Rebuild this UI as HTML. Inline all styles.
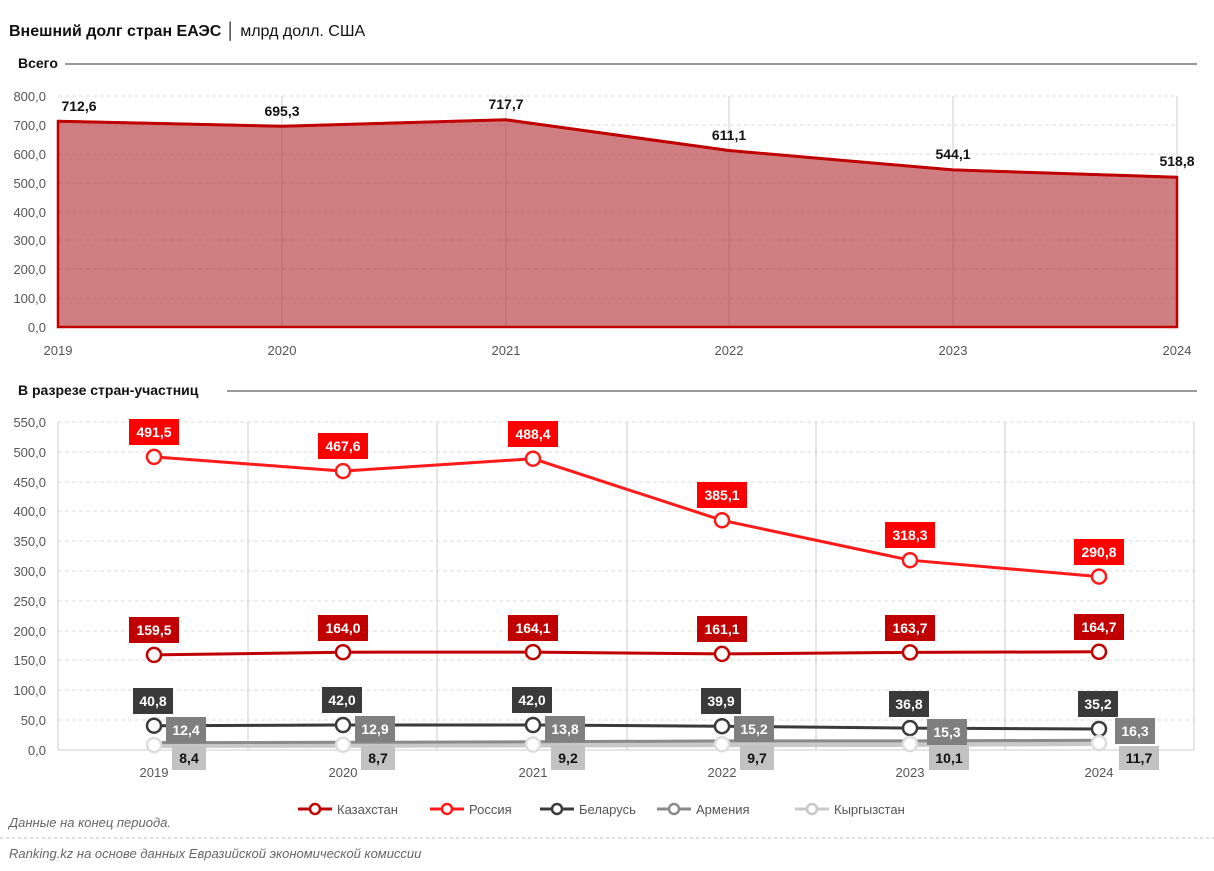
<!DOCTYPE html>
<html><head><meta charset="utf-8"><style>
body{margin:0;background:#fff;}
svg{display:block;font-family:"Liberation Sans",sans-serif;}
</style></head><body>
<svg width="1214" height="871" viewBox="0 0 1214 871" xmlns="http://www.w3.org/2000/svg">
<text x="9" y="36" font-size="16" font-weight="bold" fill="#111">Внешний долг стран ЕАЭС <tspan font-weight="normal">│ млрд долл. США</tspan></text>
<text x="18" y="68" font-size="14" font-weight="bold" fill="#111">Всего</text>
<line x1="65" y1="64" x2="1197" y2="64" stroke="#333" stroke-width="1"/>
<!-- top grid -->
<g stroke="#ddd" stroke-dasharray="4,3">
<line x1="58" y1="96" x2="1177" y2="96"/><line x1="58" y1="125" x2="1177" y2="125"/><line x1="58" y1="154" x2="1177" y2="154"/><line x1="58" y1="183" x2="1177" y2="183"/><line x1="58" y1="212" x2="1177" y2="212"/><line x1="58" y1="240" x2="1177" y2="240"/><line x1="58" y1="269" x2="1177" y2="269"/><line x1="58" y1="298" x2="1177" y2="298"/>
</g>
<g stroke="#ccc"><line x1="282" y1="96" x2="282" y2="327"/><line x1="506" y1="96" x2="506" y2="327"/><line x1="729" y1="96" x2="729" y2="327"/><line x1="953" y1="96" x2="953" y2="327"/><line x1="1177" y1="96" x2="1177" y2="327"/></g>
<polygon points="58,327 58,121.2 282,126.2 506,119.8 729,150.5 953,169.9 1177,177.2 1177,327" fill="#b53a3f" fill-opacity="0.65" stroke="#c00000" stroke-width="2.5"/>
<polyline points="58,121.2 282,126.2 506,119.8 729,150.5 953,169.9 1177,177.2" fill="none" stroke="#c00000" stroke-width="3"/>
<g font-size="13" fill="#555" text-anchor="end">
<text x="46" y="101">800,0</text><text x="46" y="130">700,0</text><text x="46" y="159">600,0</text><text x="46" y="188">500,0</text><text x="46" y="217">400,0</text><text x="46" y="245">300,0</text><text x="46" y="274">200,0</text><text x="46" y="303">100,0</text><text x="46" y="332">0,0</text>
</g>
<g font-size="13" fill="#555" text-anchor="middle">
<text x="58" y="355">2019</text><text x="282" y="355">2020</text><text x="506" y="355">2021</text><text x="729" y="355">2022</text><text x="953" y="355">2023</text><text x="1177" y="355">2024</text>
</g>
<g font-size="14" font-weight="bold" fill="#111" text-anchor="middle">
<text x="79" y="111">712,6</text><text x="282" y="116">695,3</text><text x="506" y="109">717,7</text><text x="729" y="140">611,1</text><text x="953" y="159">544,1</text><text x="1177" y="166">518,8</text>
</g>
<!-- bottom -->
<text x="18" y="395" font-size="14" font-weight="bold" fill="#111">В разрезе стран-участниц</text>
<line x1="227" y1="391" x2="1197" y2="391" stroke="#333" stroke-width="1"/>
<g stroke="#ddd" stroke-dasharray="4,3">
<line x1="58" y1="422" x2="1194" y2="422"/><line x1="58" y1="452" x2="1194" y2="452"/><line x1="58" y1="482" x2="1194" y2="482"/><line x1="58" y1="511" x2="1194" y2="511"/><line x1="58" y1="541" x2="1194" y2="541"/><line x1="58" y1="571" x2="1194" y2="571"/><line x1="58" y1="601" x2="1194" y2="601"/><line x1="58" y1="631" x2="1194" y2="631"/><line x1="58" y1="660" x2="1194" y2="660"/><line x1="58" y1="690" x2="1194" y2="690"/><line x1="58" y1="720" x2="1194" y2="720"/>
</g>
<g stroke="#ccc"><line x1="58" y1="422" x2="58" y2="750"/><line x1="248" y1="422" x2="248" y2="750"/><line x1="437" y1="422" x2="437" y2="750"/><line x1="627" y1="422" x2="627" y2="750"/><line x1="816" y1="422" x2="816" y2="750"/><line x1="1005" y1="422" x2="1005" y2="750"/><line x1="1194" y1="422" x2="1194" y2="750"/><line x1="58" y1="750" x2="1194" y2="750"/></g>
<g font-size="13" fill="#555" text-anchor="end">
<text x="46" y="427">550,0</text><text x="46" y="457">500,0</text><text x="46" y="487">450,0</text><text x="46" y="516">400,0</text><text x="46" y="546">350,0</text><text x="46" y="576">300,0</text><text x="46" y="606">250,0</text><text x="46" y="636">200,0</text><text x="46" y="665">150,0</text><text x="46" y="695">100,0</text><text x="46" y="725">50,0</text><text x="46" y="755">0,0</text>
</g>
<g font-size="13" fill="#555" text-anchor="middle">
<text x="154" y="777">2019</text><text x="343" y="777">2020</text><text x="533" y="777">2021</text><text x="722" y="777">2022</text><text x="910" y="777">2023</text><text x="1099" y="777">2024</text>
</g>
<!-- lines -->
<polyline points="154,745 343,744.8 533,744.5 722,744.2 910,744 1099,743" fill="none" stroke="#c8c8c8" stroke-width="6"/>
<polyline points="154,742.6 343,742.3 533,741.8 722,740.9 910,740.9 1099,740.3" fill="none" stroke="#8a8a8a" stroke-width="3"/>
<polyline points="154,725.7 343,725 533,725 722,726.2 910,728.1 1099,729" fill="none" stroke="#3a3a3a" stroke-width="3"/>
<polyline points="154,654.9 343,652.2 533,652.1 722,653.9 910,652.4 1099,651.8" fill="none" stroke="#c00000" stroke-width="3"/>
<polyline points="154,456.9 343,471.1 533,458.7 722,520.3 910,560.2 1099,576.6" fill="none" stroke="#ff1a1a" stroke-width="3"/>
<g fill="#fff" stroke-width="2.5">
<g stroke="#3a3a3a"><circle cx="154" cy="725.7" r="7"/><circle cx="343" cy="725" r="7"/><circle cx="533" cy="725" r="7"/><circle cx="722" cy="726.2" r="7"/><circle cx="910" cy="728.1" r="7"/><circle cx="1099" cy="729" r="7"/></g>
<g stroke="#ddd"><circle cx="154" cy="745" r="7"/><circle cx="343" cy="744.8" r="7"/><circle cx="533" cy="744.5" r="7"/><circle cx="722" cy="744.2" r="7"/><circle cx="910" cy="744" r="7"/><circle cx="1099" cy="743" r="7"/></g>
<g stroke="#c00000"><circle cx="154" cy="654.9" r="7"/><circle cx="343" cy="652.2" r="7"/><circle cx="533" cy="652.1" r="7"/><circle cx="722" cy="653.9" r="7"/><circle cx="910" cy="652.4" r="7"/><circle cx="1099" cy="651.8" r="7"/></g>
<g stroke="#ff1a1a"><circle cx="154" cy="456.9" r="7"/><circle cx="343" cy="471.1" r="7"/><circle cx="533" cy="458.7" r="7"/><circle cx="722" cy="520.3" r="7"/><circle cx="910" cy="560.2" r="7"/><circle cx="1099" cy="576.6" r="7"/></g>
</g>
<!-- label boxes -->
<g fill="#ff0000">
<rect x="129" y="419" width="50" height="26"/><rect x="318" y="433" width="50" height="26"/><rect x="508" y="421" width="50" height="26"/><rect x="697" y="482" width="50" height="26"/><rect x="885" y="522" width="50" height="26"/><rect x="1074" y="539" width="50" height="26"/>
</g>
<g fill="#c00000">
<rect x="129" y="617" width="50" height="26"/><rect x="318" y="615" width="50" height="26"/><rect x="508" y="615" width="50" height="26"/><rect x="697" y="616" width="50" height="26"/><rect x="885" y="615" width="50" height="26"/><rect x="1074" y="614" width="50" height="26"/>
</g>
<g fill="#3a3a3a">
<rect x="133" y="688" width="40" height="26"/><rect x="322" y="687" width="40" height="26"/><rect x="512" y="687" width="40" height="26"/><rect x="701" y="688" width="40" height="26"/><rect x="889" y="691" width="40" height="26"/><rect x="1078" y="691" width="40" height="26"/>
</g>
<g fill="#7f7f7f">
<rect x="166" y="717" width="40" height="26"/><rect x="355" y="716" width="40" height="26"/><rect x="545" y="716" width="40" height="26"/><rect x="734" y="716" width="40" height="26"/><rect x="927" y="719" width="40" height="26"/><rect x="1115" y="718" width="40" height="26"/>
</g>
<g fill="#c2c2c2">
<rect x="172" y="746" width="34" height="24"/><rect x="361" y="746" width="34" height="24"/><rect x="551" y="746" width="34" height="24"/><rect x="740" y="746" width="34" height="24"/><rect x="929" y="746" width="40" height="24"/><rect x="1119" y="746" width="40" height="24"/>
</g>
<g font-size="14" font-weight="bold" fill="#fff" text-anchor="middle">
<text x="154" y="437">491,5</text><text x="343" y="451">467,6</text><text x="533" y="439">488,4</text><text x="722" y="500">385,1</text><text x="910" y="540">318,3</text><text x="1099" y="557">290,8</text>
<text x="154" y="635">159,5</text><text x="343" y="633">164,0</text><text x="533" y="633">164,1</text><text x="722" y="634">161,1</text><text x="910" y="633">163,7</text><text x="1099" y="632">164,7</text>
<text x="153" y="706">40,8</text><text x="342" y="705">42,0</text><text x="532" y="705">42,0</text><text x="721" y="706">39,9</text><text x="909" y="709">36,8</text><text x="1098" y="709">35,2</text>
<text x="186" y="735">12,4</text><text x="375" y="734">12,9</text><text x="565" y="734">13,8</text><text x="754" y="734">15,2</text><text x="947" y="737">15,3</text><text x="1135" y="736">16,3</text>
</g>
<g font-size="14" font-weight="bold" fill="#111" text-anchor="middle">
<text x="189" y="763">8,4</text><text x="378" y="763">8,7</text><text x="568" y="763">9,2</text><text x="757" y="763">9,7</text><text x="949" y="763">10,1</text><text x="1139" y="763">11,7</text>
</g>
<!-- legend -->
<g stroke-width="3" fill="#fff">
<line x1="298" y1="809" x2="332" y2="809" stroke="#c00000"/><circle cx="315" cy="809" r="5" stroke="#c00000" stroke-width="2.5"/>
<line x1="430" y1="809" x2="464" y2="809" stroke="#ff1a1a"/><circle cx="447" cy="809" r="5" stroke="#ff1a1a" stroke-width="2.5"/>
<line x1="540" y1="809" x2="574" y2="809" stroke="#3a3a3a"/><circle cx="557" cy="809" r="5" stroke="#3a3a3a" stroke-width="2.5"/>
<line x1="657" y1="809" x2="691" y2="809" stroke="#8a8a8a"/><circle cx="674" cy="809" r="5" stroke="#8a8a8a" stroke-width="2.5"/>
<line x1="795" y1="809" x2="829" y2="809" stroke="#c8c8c8"/><circle cx="812" cy="809" r="5" stroke="#c8c8c8" stroke-width="2.5"/>
</g>
<g font-size="13" fill="#555">
<text x="337" y="814">Казахстан</text><text x="469" y="814">Россия</text><text x="579" y="814">Беларусь</text><text x="696" y="814">Армения</text><text x="834" y="814">Кыргызстан</text>
</g>
<text x="9" y="827" font-size="13" font-style="italic" fill="#666">Данные на конец периода.</text>
<line x1="0" y1="838" x2="1214" y2="838" stroke="#bbb" stroke-dasharray="3,3"/>
<text x="9" y="858" font-size="13" font-style="italic" fill="#666">Ranking.kz на основе данных Евразийской экономической комиссии</text>
</svg>
</body></html>
